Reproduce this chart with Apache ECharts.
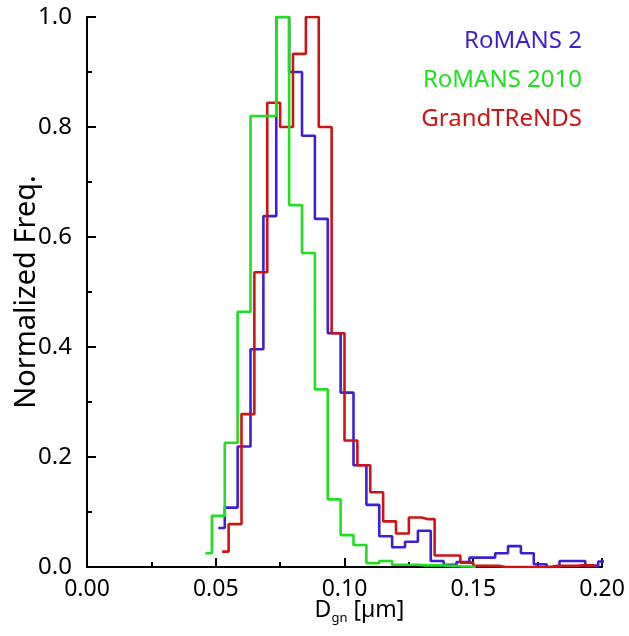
<!DOCTYPE html>
<html>
<head>
<meta charset="utf-8">
<script src="https://cdn.jsdelivr.net/npm/echarts@6/dist/echarts.min.js"></script>
<style>
html,body{margin:0;padding:0;background:#fff;}
#c{width:629px;height:636px;}
</style>
</head>
<body>
<div id="c"></div>
<script>
// Bin centres (µm) and normalized frequencies
const greenX = [0.046,0.051,0.056,0.061,0.066,0.071,0.076,0.081,0.086,0.091,0.096,0.101,0.106,0.111,0.116,0.121,0.126,0.131,0.136,0.141,0.146,0.151];
const greenY = [0.025,0.093,0.226,0.464,0.82,0.82,1.0,0.658,0.571,0.323,0.123,0.058,0.04,0.007,0.011,0.004,0.004,0.003,0.003,0.002,0.001,0.0];

const blueX = [0.051,0.056,0.061,0.066,0.071,0.076,0.081,0.086,0.091,0.096,0.101,0.106,0.111,0.116,0.121,0.126,0.131,0.136,0.141,0.146,0.151,0.156,0.161,0.166,0.171,0.176,0.181,0.186,0.191,0.196,0.201];
const blueY = [0.071,0.108,0.219,0.396,0.638,1.0,0.9,0.784,0.633,0.425,0.317,0.185,0.113,0.056,0.036,0.046,0.066,0.011,0.004,0.009,0.017,0.017,0.025,0.038,0.025,0.005,0.0,0.011,0.011,0.002,0.01];

const redX = [0.0525,0.0575,0.0625,0.0675,0.0725,0.0775,0.0825,0.0875,0.0925,0.0975,0.1025,0.1075,0.1125,0.1175,0.1225,0.1275,0.1325,0.1375,0.1425,0.1475,0.1525,0.1575,0.1625,0.1675,0.1725,0.1775,0.1825,0.1875,0.1925,0.1975];
const redY = [0.028,0.078,0.278,0.536,0.844,0.8,0.933,1.0,0.8,0.425,0.23,0.185,0.136,0.083,0.061,0.09,0.087,0.021,0.021,0.008,0.002,0.002,0.0,0.0,0.0,0.0,0.002,0.002,0.003,0.003];

const seriesNames = ['RoMANS 2','RoMANS 2010','GrandTReNDS'];
const xTicks = [0.00,0.05,0.10,0.15,0.20];
const yTicks = [0.0,0.2,0.4,0.6,0.8,1.0];

const C_BLUE = '#3f1fd3', C_GREEN = '#1fe01f', C_RED = '#cc1414';
const FONT = 'Noto Sans';

function pairs(xs, ys){ return xs.map((x,i)=>[x, ys[i]]); }

const chart = echarts.init(document.getElementById('c'), null, {renderer:'canvas'});
const mkSeries = (name, xs, ys, color) => ({
  name, type:'line', step:'middle', data: pairs(xs, ys), symbol:'none',
  lineStyle:{color, width:2.6}, itemStyle:{color}, animation:false, clip:true
});

chart.setOption({
  animation:false,
  backgroundColor:'#fff',
  grid:{left:87, right:27, top:17, bottom:69, containLabel:false, outerBoundsMode:'none'},
  legend:{
    orient:'vertical', right:37, top:24, align:'right', icon:'none',
    itemWidth:0, itemHeight:10, itemGap:15,
    textStyle:{fontFamily:FONT, fontSize:24},
    data:[
      {name:seriesNames[0], textStyle:{color:C_BLUE}},
      {name:seriesNames[1], textStyle:{color:C_GREEN}},
      {name:seriesNames[2], textStyle:{color:C_RED}}
    ]
  },
  xAxis:{
    type:'value', min:xTicks[0], max:xTicks[xTicks.length-1], interval:0.05,
    axisLine:{show:true, lineStyle:{color:'#000', width:2}},
    axisTick:{show:true, inside:true, length:9, lineStyle:{color:'#000', width:2}},
    minorTick:{show:true, splitNumber:2, length:5, lineStyle:{color:'#000', width:2}},
    splitLine:{show:false},
    axisLabel:{color:'#000', fontFamily:FONT, fontSize:23, margin:11,
      formatter:v=>v.toFixed(2)},
    name:'{d|D}{s|gn}{d| [µm]}', nameLocation:'middle', nameGap:29, nameMoveOverlap:false,
    nameTextStyle:{
      padding:[0,0,0,30],
      rich:{
        d:{fontFamily:FONT, fontSize:23, color:'#000'},
        s:{fontFamily:FONT, fontSize:13, color:'#000', padding:[16,0,0,0]}
      }
    }
  },
  yAxis:{
    type:'value', min:yTicks[0], max:yTicks[yTicks.length-1], interval:0.2,
    axisLine:{show:true, lineStyle:{color:'#000', width:2}},
    axisTick:{show:true, inside:true, length:9, lineStyle:{color:'#000', width:2}},
    minorTick:{show:true, splitNumber:2, length:5, lineStyle:{color:'#000', width:2}},
    splitLine:{show:false},
    axisLabel:{color:'#000', fontFamily:FONT, fontSize:24, margin:15,
      formatter:v=>v.toFixed(1)},
    name:'Normalized Freq.', nameLocation:'middle', nameGap:46, nameRotate:90, nameMoveOverlap:false,
    nameTextStyle:{fontFamily:FONT, fontSize:29, color:'#000'}
  },
  series:[
    mkSeries(seriesNames[0], blueX, blueY, C_BLUE),
    mkSeries(seriesNames[2], redX, redY, C_RED),
    mkSeries(seriesNames[1], greenX, greenY, C_GREEN)
  ]
});
</script>
</body>
</html>
